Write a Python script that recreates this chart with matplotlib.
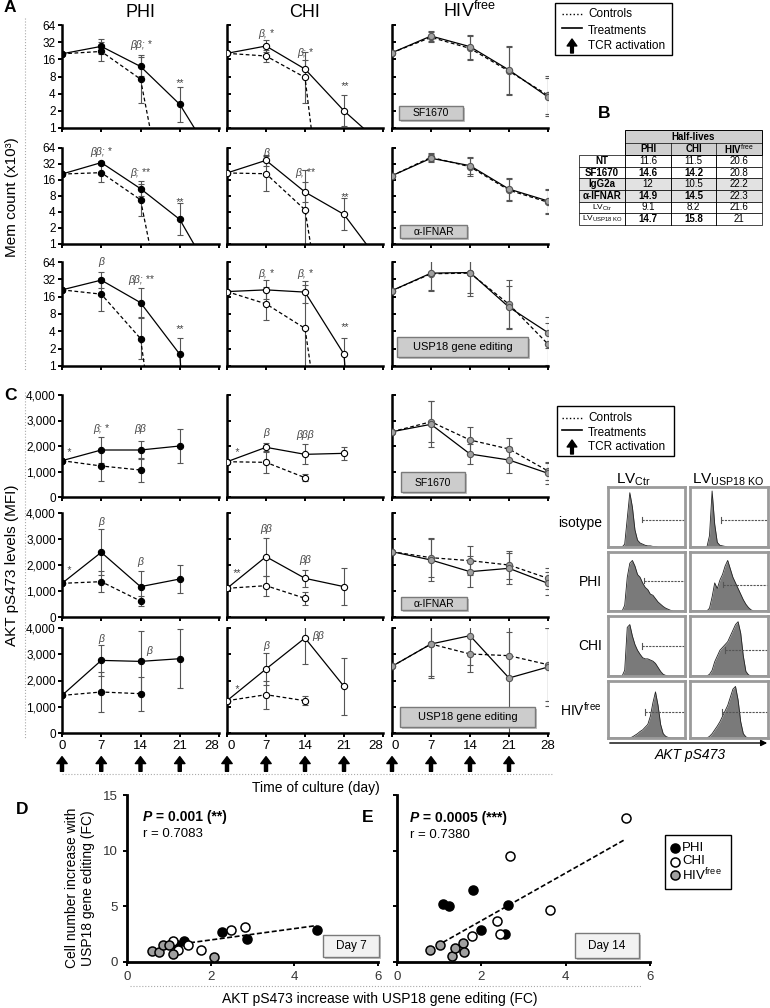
"""
Memory cell decay (A), half-life table (B), AKT pS473 kinetics with flow
histograms (C) and fold-change correlations at day 7 / day 14 (D, E).
Output: out.png (770 x 1008 px)
"""
import numpy as np
import matplotlib.pyplot as plt
from matplotlib.patches import Rectangle
from matplotlib.ticker import NullLocator

plt.rcParams['font.family'] = ['Liberation Sans', 'DejaVu Sans']
plt.rcParams['mathtext.fontset'] = 'custom'
plt.rcParams['mathtext.rm'] = 'Liberation Sans'
plt.rcParams['mathtext.it'] = 'Liberation Sans:italic'
plt.rcParams['mathtext.bf'] = 'Liberation Sans:bold'

W, H = 770, 1008
nan = np.nan

DAYS = [0, 7, 14, 21, 28]
GROUPS = ['PHI', 'CHI', r'HIV$^{\mathrm{free}}$']
TREATMENTS = ['SF1670', 'α-IFNAR', 'USP18 gene editing']

# ---- panel A: memory cell count (x10^3); rows = treatments; err in log2 units
A_PHI_TRT = [[20, 27, 12, 2.6, 0.2], [20.7, 34, 11, 2.9, 0.15], [21, 31, 12.6, 1.6, 1e-9]]
A_PHI_CTL = [[20, 22, 7.2, 0.002, nan], [20.7, 22, 6.8, 0.0015, nan], [21, 17.7, 3.0, 5e-5, nan]]
A_PHI_TRT_ERR = [[0, 0.45, 0.55, 1.0, 0], [0, 0.12, 0.45, 1.0, 0], [0, 0.45, 0.85, 0.95, 0]]
A_PHI_CTL_ERR = [[0, 0.55, 1.4, 0, 0], [0, 0.6, 1.0, 0, 0], [0, 0.95, 1.2, 0, 0]]

A_CHI_TRT = [[20.4, 27.4, 10.8, 2.0, 0.49], [21.7, 37.5, 9.5, 3.6, 0.38], [19.6, 21, 19.2, 1.6, 1e-9]]
A_CHI_CTL = [[20.4, 18.3, 7.7, 2e-5, nan], [21.7, 21, 4.4, 1.3e-4, nan], [19.6, 12, 4.5, 1.1e-4, nan]]
A_CHI_TRT_ERR = [[0, 0.35, 0.5, 0.9, 0], [0, 0.35, 0.6, 1.0, 0], [0, 0.55, 0.65, 0.95, 0]]
A_CHI_CTL_ERR = [[0, 0.37, 1.5, 0, 0], [0, 1.1, 2.5, 0, 0], [0, 0.95, 2.5, 0, 0]]

A_HIV_TRT = [[20.9, 41, 26.7, 10.4, 3.5], [19.3, 41, 29.8, 10.8, 6.45], [20.4, 41, 42, 10.5, 3.8]]
A_HIV_CTL = [[20.9, 38.9, 24.9, 9.9, 3.76], [19.3, 42.8, 28.4, 10.3, 6.1], [20.4, 40, 41, 11.8, 2.4]]
A_HIV_TRT_ERR = [[0, 0.3, 0.7, 1.4, 1.1], [0, 0.25, 0.55, 0.7, 0.75], [0, 1.0, 1.2, 1.2, 0.9]]
A_HIV_CTL_ERR = [[0, 0.3, 0.7, 1.4, 1.1], [0, 0.25, 0.55, 0.7, 0.75], [0, 1.0, 1.3, 1.4, 1.2]]

A_PHI_SIG = [[(14, 28, 'ββ; *'), (21, 6.2, '**')],
             [(7, 54, 'ββ; *'), (14, 22, 'β; **'), (21, 6.2, '**')],
             [(7, 64, 'β'), (14, 31, 'ββ; **'), (21, 4.3, '**')]]
A_CHI_SIG = [[(7, 45, 'β, *'), (14, 21, 'β; *'), (21, 5.5, '**')],
             [(7, 52, 'β'), (14, 22, 'β; **'), (21, 7.5, '**')],
             [(7, 40, 'β, *'), (14, 40, 'β, *'), (21, 4.8, '**')]]

# ---- panel C: AKT pS473 MFI
C_PHI_TRT = [[1424, 1843, 1843, 2000, nan], [1295, 2487, 1167, 1461, nan], [1432, 2766, 2728, 2830, nan]]
C_PHI_CTL = [[1424, 1216, 1059, nan, nan], [1295, 1359, 615, nan, nan], [1432, 1562, 1498, nan, nan]]
C_PHI_TRT_ERR = [[0, 500, 350, 650, 0], [0, 880, 600, 520, 0], [0, 580, 1170, 1130, 0]]
C_PHI_CTL_ERR = [[0, 600, 480, 0, 0], [0, 400, 200, 0, 0], [0, 760, 650, 0, 0]]

C_CHI_TRT = [[1384, 1948, 1673, 1712, nan], [1103, 2320, 1487, 1167, nan], [1230, 2438, 3619, 1775, nan]]
C_CHI_CTL = [[1384, 1359, 758, nan, nan], [1103, 1205, 718, nan, nan], [1230, 1459, 1230, nan, nan]]
C_CHI_TRT_ERR = [[0, 180, 390, 260, 0], [0, 730, 320, 700, 0], [0, 600, 1000, 1100, 0]]
C_CHI_CTL_ERR = [[0, 430, 150, 0, 0], [0, 390, 250, 0, 0], [0, 530, 170, 0, 0]]

C_HIV_TRT = [[2560, 2850, 1686, 1451, 929], [2513, 2192, 1744, 1872, 1295], [2540, 3390, 3708, 2095, 2514]]
C_HIV_CTL = [[2560, 2950, 2235, 1882, 1020], [2513, 2282, 2167, 2000, 1487], [2540, 3390, 3010, 2946, 2603]]
C_HIV_TRT_ERR = [[0, 900, 400, 500, 400], [0, 800, 600, 600, 450], [0, 1300, 1100, 2100, 1500]]
C_HIV_CTL_ERR = [[0, 800, 500, 450, 350], [0, 750, 550, 550, 400], [0, 1200, 700, 900, 1400]]

C_PHI_SIG = [[(1.2, 1780, '*'), (7, 2670, 'β; *'), (14, 2670, 'ββ')],
             [(1.2, 1800, '*'), (7, 3666, 'β'), (14, 2127, 'β')],
             [(7, 3580, 'β'), (15.5, 3135, 'β')]]
C_CHI_SIG = [[(1.6, 1780, '*'), (7, 2500, 'β'), (14, 2430, 'βββ')],
             [(1.6, 1700, '**'), (7, 3372, 'ββ'), (14, 2200, 'ββ')],
             [(1.6, 1676, '*'), (7, 3300, 'β'), (16.4, 3680, 'ββ')]]

TCR_DAYS = [0, 7, 14, 21]

# ---- panel B: half-lives (days)
B_ROWS = ['NT', 'SF1670', 'IgG2a', 'α-IFNAR', r'LV$_{\mathrm{Ctr}}$', r'LV$_{\mathrm{USP18\ KO}}$']
B_PHI = [11.6, 14.6, 12, 14.9, 9.1, 14.7]
B_CHI = [11.5, 14.2, 10.5, 14.5, 8.2, 15.8]
B_HIV = [20.6, 20.8, 22.2, 22.3, 21.6, 21]
B_BOLD = [False, True, False, True, False, True]

# ---- panel C histograms (relative counts, 30 bins)
HIST_ROWS = ['isotype', 'PHI', 'CHI', r'HIV$^{\mathrm{free}}$']
HIST_CTR = [
    [0, 0, 0, 0, 0, 0, .05, .5, .95, .7, .3, .12, .07, .05, .03, .02, .02, .01, .01, 0, 0, 0, 0, 0, 0, 0, 0, 0, 0, 0],
    [0, 0, 0, 0, 0, 0, .1, .6, .85, .9, .8, .65, .6, .5, .42, .38, .3, .28, .22, .16, .12, .08, .05, .03, .01, 0, 0, 0, 0, 0],
    [0, 0, 0, 0, 0, 0, .1, .85, .9, .7, .55, .45, .38, .32, .3, .3, .28, .26, .22, .15, .08, .03, .01, 0, 0, 0, 0, 0, 0, 0],
    [0, 0, 0, 0, 0, 0, 0, 0, 0, .02, .05, .08, .12, .15, .2, .25, .4, .65, .85, .6, .25, .08, .03, .01, 0, 0, 0, 0, 0, 0],
]
HIST_KO = [
    [0, 0, 0, 0, 0, 0, 0, .2, .98, .4, .08, .03, .02, .01, 0, 0, 0, 0, 0, 0, 0, 0, 0, 0, 0, 0, 0, 0, 0, 0],
    [0, 0, 0, 0, 0, 0, 0, .05, .25, .5, .4, .55, .65, .8, .9, .75, .6, .5, .4, .3, .2, .12, .06, .02, 0, 0, 0, 0, 0, 0],
    [0, 0, 0, 0, 0, 0, 0, .03, .1, .25, .35, .45, .5, .55, .6, .7, .8, .9, .95, .75, .35, .08, .02, 0, 0, 0, 0, 0, 0, 0],
    [0, 0, 0, 0, 0, 0, 0, .03, .08, .15, .22, .3, .4, .5, .6, .75, .9, .95, .7, .3, .08, .02, 0, 0, 0, 0, 0, 0, 0, 0],
]
GATE_CTR_X = [13.4, 14, 13.4, 14.4]
GATE_CTR_Y = [0.48, 0.54, 0.52, 0.48]
GATE_KO_X = [11.8, 12.8, 13.5, 12.2]
GATE_KO_Y = [0.47, 0.47, 0.46, 0.48]

# ---- panels D / E: fold changes with USP18 gene editing
D_PHI_X = [1.19, 1.36, 2.27, 2.86, 4.53]
D_PHI_Y = [1.49, 1.85, 2.69, 2.09, 2.90]
D_CHI_X = [1.11, 1.22, 1.47, 1.77, 2.48, 2.82]
D_CHI_Y = [1.85, 1.04, 1.49, 1.04, 2.90, 3.10]
D_HIV_X = [0.60, 0.76, 0.86, 1.00, 1.09, 2.07]
D_HIV_Y = [0.96, 0.90, 1.49, 1.49, 0.75, 0.42]
D_FIT = (0.51, 0.96)
D_FIT_X = [1.15, 4.53]

E_PHI_X = [1.08, 1.24, 1.81, 2.64, 2.00, 2.57]
E_PHI_Y = [5.22, 4.99, 6.48, 5.10, 2.90, 2.54]
E_CHI_X = [5.43, 2.69, 3.63, 2.37, 1.77, 2.44]
E_CHI_Y = [12.9, 9.55, 4.69, 3.70, 2.36, 2.54]
E_HIV_X = [0.79, 1.03, 1.31, 1.38, 1.57, 1.58]
E_HIV_Y = [1.04, 1.55, 0.51, 1.22, 1.73, 0.87]
E_FIT = (2.14, -0.57)
E_FIT_X = [1.09, 5.41]

# marker face / edge per group
FACE = ['black', 'white', '#a0a0a0']
EDGE = ['black', 'black', '#555555']

# layout (pixels)
COL_X = [(62, 219), (227, 383), (392, 548)]
A_ROW_Y = [(25, 128), (148, 244), (262, 366)]
C_ROW_Y = [(395, 497), (513, 617), (628, 733)]
A_BOX = [(399, 106, 463, 120), (400, 225, 467, 238), (397, 337, 528, 357)]
C_BOX = [(401, 472, 465, 492), (401, 597, 467, 610), (400, 707, 535, 727)]
HIST_COL_X = [(608, 685), (690, 768)]
HIST_ROW_Y = [(487, 547), (552, 611), (616, 676), (681, 738)]

fig = plt.figure(figsize=(W / 100, H / 100), dpi=100)


def px_axes(x0, y0, x1, y1, **kw):
    return fig.add_axes([x0 / W, 1 - y1 / H, (x1 - x0) / W, (y1 - y0) / H], **kw)


def draw_course(ax, trt, ctl, trt_err, ctl_err, g, log):
    days = np.array(DAYS, float)
    for vals, errs, ls in ((ctl, ctl_err, (0, (3, 2))), (trt, trt_err, '-')):
        v = np.array(vals, float)
        e = np.array(errs, float)
        ax.plot(days, v, ls=ls, color='black', lw=0.9, zorder=3)
        m = e > 0
        if log:
            lo, hi = v - v / 2 ** e, v * 2 ** e - v
        else:
            lo, hi = e, e
        ax.errorbar(days[m], v[m], yerr=[lo[m], hi[m]], fmt='none', ecolor='#555555',
                    elinewidth=0.8, capsize=2, capthick=0.8, zorder=2)
        ax.plot(days, v, ls='none', marker='o', ms=4.5, mfc=FACE[g], mec=EDGE[g],
                mew=0.8, zorder=4)


def style_axes(ax, col, show_x):
    first_col = col == 0
    ax.spines[['top', 'right']].set_visible(False)
    for s in ('left', 'bottom'):
        ax.spines[s].set_linewidth(1.8)
    ax.set_xlim(0, 28)
    ax.set_xticks(DAYS)
    ax.set_xticklabels([str(d) for d in DAYS])
    ax.tick_params(axis='x', direction='out', length=3, width=1.4, labelsize=9.5,
                   labelbottom=show_x, pad=2)
    ax.tick_params(axis='y', direction='out' if first_col else 'in', length=3, width=1.4,
                   labelsize=8.5, labelleft=first_col, pad=1.5)
    # neighbouring panels share the 28 / 0 boundary: push those labels apart
    ticks = ax.xaxis.get_major_ticks()
    if col < 2:
        ticks[-1].label1.set_horizontalalignment('right')
    if not first_col:
        ticks[0].label1.set_horizontalalignment('left')
    ax.patch.set_alpha(0)


def add_sig(ax, sigs):
    for d, y, s in sigs:
        ax.text(d, y, s, ha='center', va='center', fontsize=7.5, style='italic',
                color='#444444', zorder=5)


A_SETS = [(A_PHI_TRT, A_PHI_CTL, A_PHI_TRT_ERR, A_PHI_CTL_ERR, A_PHI_SIG),
          (A_CHI_TRT, A_CHI_CTL, A_CHI_TRT_ERR, A_CHI_CTL_ERR, A_CHI_SIG),
          (A_HIV_TRT, A_HIV_CTL, A_HIV_TRT_ERR, A_HIV_CTL_ERR, None)]
C_SETS = [(C_PHI_TRT, C_PHI_CTL, C_PHI_TRT_ERR, C_PHI_CTL_ERR, C_PHI_SIG),
          (C_CHI_TRT, C_CHI_CTL, C_CHI_TRT_ERR, C_CHI_CTL_ERR, C_CHI_SIG),
          (C_HIV_TRT, C_HIV_CTL, C_HIV_TRT_ERR, C_HIV_CTL_ERR, None)]

# ---- panel A
for r in range(3):
    for c in range(3):
        ax = px_axes(COL_X[c][0], A_ROW_Y[r][0], COL_X[c][1], A_ROW_Y[r][1])
        trt, ctl, te, ce, sig = A_SETS[c]
        ax.set_yscale('log', base=2)
        draw_course(ax, trt[r], ctl[r], te[r], ce[r], c, log=True)
        style_axes(ax, c, False)
        ax.set_ylim(1, 64)
        ax.set_yticks([1, 2, 4, 8, 16, 32, 64])
        ax.set_yticklabels(['1', '2', '4', '8', '16', '32', '64'])
        ax.yaxis.set_minor_locator(NullLocator())
        if sig:
            add_sig(ax, sig[r])
        if r == 0:
            ax.set_title(GROUPS[c], fontsize=13, pad=6)

# ---- panel C
for r in range(3):
    for c in range(3):
        ax = px_axes(COL_X[c][0], C_ROW_Y[r][0], COL_X[c][1], C_ROW_Y[r][1])
        trt, ctl, te, ce, sig = C_SETS[c]
        draw_course(ax, trt[r], ctl[r], te[r], ce[r], c, log=False)
        style_axes(ax, c, r == 2)
        ax.set_ylim(0, 4000)
        ax.set_yticks([0, 1000, 2000, 3000, 4000])
        ax.set_yticklabels(['0', '1,000', '2,000', '3,000', '4,000'])
        if sig:
            add_sig(ax, sig[r])
        if r == 2:
            for d in TCR_DAYS:
                ax.annotate('', xy=(d, -0.225), xytext=(d, -0.365),
                            xycoords=('data', 'axes fraction'),
                            arrowprops=dict(facecolor='black', edgecolor='black',
                                            width=2.2, headwidth=7.5, headlength=5, shrink=0),
                            annotation_clip=False)

# ---- histograms
for r in range(4):
    for k, (hist, gx, gy) in enumerate(((HIST_CTR, GATE_CTR_X, GATE_CTR_Y),
                                        (HIST_KO, GATE_KO_X, GATE_KO_Y))):
        ax = px_axes(HIST_COL_X[k][0], HIST_ROW_Y[r][0], HIST_COL_X[k][1], HIST_ROW_Y[r][1])
        vals = np.array(hist[r])
        xs = np.arange(len(vals)) + 0.5
        ax.fill_between(xs, vals, color='#7a7a7a', lw=0)
        ax.plot(xs, vals, color='#222222', lw=0.6)
        ax.plot([gx[r], 30], [gy[r], gy[r]], ls=(0, (2, 1)), color='#555555', lw=0.8)
        ax.plot([gx[r], gx[r]], [gy[r] - 0.05, gy[r] + 0.05], color='#555555', lw=0.8)
        ax.set_xlim(0, 30)
        ax.set_ylim(0, 1.05)
        ax.set_xticks([])
        ax.set_yticks([])
        for s in ax.spines.values():
            s.set_color('#9a9a9a')
            s.set_linewidth(2)

# ---- panels D and E
DE = [((127, 795, 378, 962), D_PHI_X, D_PHI_Y, D_CHI_X, D_CHI_Y, D_HIV_X, D_HIV_Y, D_FIT, D_FIT_X),
      ((397, 795, 650, 962), E_PHI_X, E_PHI_Y, E_CHI_X, E_CHI_Y, E_HIV_X, E_HIV_Y, E_FIT, E_FIT_X)]
for i, (box, px_, py_, cx_, cy_, hx_, hy_, fit, fx) in enumerate(DE):
    ax = px_axes(*box)
    fx = np.array(fx)
    ax.plot(fx, fit[0] * fx + fit[1], ls=(0, (3, 1.5)), color='black', lw=1.2, zorder=2)
    for g, (xs, ys) in enumerate(((px_, py_), (cx_, cy_), (hx_, hy_))):
        ax.plot(xs, ys, 'o', ms=6.5, mfc=FACE[g], mec='black', mew=1.1, zorder=3)
    ax.set_xlim(0, 6)
    ax.set_ylim(0, 15)
    ax.set_xticks([0, 2, 4, 6])
    ax.set_yticks([0, 5, 10, 15])
    ax.spines[['top', 'right']].set_visible(False)
    for s in ('left', 'bottom'):
        ax.spines[s].set_linewidth(2)
    ax.tick_params(direction='out', length=3, width=1.4, labelsize=9.5, labelcolor='#333333')
    ax.tick_params(axis='y', labelleft=(i == 0))
    ax.patch.set_alpha(0)

# ---- overlay in pixel coordinates for labels, legends and the table
over = fig.add_axes([0, 0, 1, 1], zorder=10)
over.set_xlim(0, W)
over.set_ylim(H, 0)
over.axis('off')
over.patch.set_alpha(0)

for x, y, s in ((4, 8, 'A'), (4, 396, 'C'), (16, 810, 'D'), (362, 818, 'E'), (598, 113, 'B')):
    over.text(x, y, s, fontsize=12.5, fontweight='bold', va='center')

over.text(12, 197, 'Mem count (x10³)', rotation=90, ha='center', va='center', fontsize=11)
over.text(12, 565, 'AKT pS473 levels (MFI)', rotation=90, ha='center', va='center', fontsize=11)
over.plot([25, 25], [18, 370], ls=':', color='#aaaaaa', lw=0.8)
over.plot([25, 25], [392, 738], ls=':', color='#aaaaaa', lw=0.8)
over.plot([62, 553], [774, 774], ls=':', color='#aaaaaa', lw=0.8)
over.text(380, 788, 'Time of culture (day)', ha='right', va='center', fontsize=10)
over.plot([130, 642], [986, 986], ls=':', color='#aaaaaa', lw=0.8)
over.text(380, 999, 'AKT pS473 increase with USP18 gene editing (FC)', ha='center',
          va='center', fontsize=10)
over.text(80, 888, 'Cell number increase with\nUSP18 gene editing (FC)', rotation=90,
          ha='center', va='center', fontsize=10, linespacing=1.1)


def label_box(x0, y0, x1, y1, text, fs=8, fc='#cccccc'):
    over.add_patch(Rectangle((x0 + 2, y0 + 2), x1 - x0, y1 - y0, color='#9a9a9a', lw=0, alpha=0.6))
    over.add_patch(Rectangle((x0, y0), x1 - x0, y1 - y0, fc=fc, ec='#7a7a7a', lw=1))
    over.text((x0 + x1) / 2, (y0 + y1) / 2 + 0.5, text, ha='center', va='center', fontsize=fs)


for r in range(3):
    label_box(*A_BOX[r], TREATMENTS[r], fs=8 if r == 2 else 7.5)
    label_box(*C_BOX[r], TREATMENTS[r], fs=8 if r == 2 else 7.5)


def draw_legend(x0, y0, x1, y1, ys):
    over.add_patch(Rectangle((x0, y0), x1 - x0, y1 - y0, fill=False, ec='black', lw=1))
    over.plot([562, 582], [ys[0], ys[0]], ls=':', color='black', lw=1)
    over.text(588, ys[0], 'Controls', va='center', fontsize=8.5)
    over.plot([562, 582], [ys[1] - 3, ys[1] - 3], color='black', lw=1.2)
    over.text(588, ys[1], 'Treatments', va='center', fontsize=8.5)
    over.annotate('', xy=(572, ys[2] - 7), xytext=(572, ys[2] + 7),
                  arrowprops=dict(facecolor='black', edgecolor='black', width=2,
                                  headwidth=7, headlength=5, shrink=0))
    over.text(588, ys[2], 'TCR activation', va='center', fontsize=8.5)


draw_legend(555, 3, 672, 55, [14, 31, 46])
draw_legend(557, 406, 674, 456, [418, 433, 447])

# table B
tx = [579, 625, 671, 716, 762]
over.add_patch(Rectangle((tx[1], 130), tx[4] - tx[1], 25, fc='#cfcfcf', ec='black', lw=0.7))
over.plot([tx[1], tx[4]], [143, 143], color='black', lw=0.5)
over.text((tx[1] + tx[4]) / 2, 136.5, 'Half-lives', ha='center', va='center',
          fontsize=7, fontweight='bold')
for j, name in enumerate(GROUPS):
    over.text((tx[j + 1] + tx[j + 2]) / 2, 149, name, ha='center', va='center',
              fontsize=7, fontweight='bold')
    over.plot([tx[j + 1], tx[j + 1]], [143, 225], color='black', lw=0.5)
rh = (225 - 155) / len(B_ROWS)
for i, name in enumerate(B_ROWS):
    y0 = 155 + i * rh
    fc = '#e2e2e2' if name in ('IgG2a', 'α-IFNAR') else 'white'
    over.add_patch(Rectangle((tx[0], y0), tx[4] - tx[0], rh, fc=fc, ec='black', lw=0.5, zorder=0))
    is_lv = name.startswith('LV')
    over.text((tx[0] + tx[1]) / 2, y0 + rh / 2, name, ha='center', va='center',
              fontsize=6 if is_lv else 7, fontweight='normal' if is_lv else 'bold')
    for j, vals in enumerate((B_PHI, B_CHI, B_HIV)):
        bold = B_BOLD[i] and j < 2
        over.text((tx[j + 1] + tx[j + 2]) / 2, y0 + rh / 2, f'{vals[i]:g}', ha='center',
                  va='center', fontsize=7, fontweight='bold' if bold else 'normal')
for j in range(1, 4):
    over.plot([tx[j], tx[j]], [155, 225], color='black', lw=0.5)

# histogram labels
over.text(633, 480, r'LV$_{\mathrm{Ctr}}$', ha='center', va='center', fontsize=11)
over.text(728, 480, r'LV$_{\mathrm{USP18\ KO}}$', ha='center', va='center', fontsize=11)
for r, name in enumerate(HIST_ROWS):
    over.text(602, (HIST_ROW_Y[r][0] + HIST_ROW_Y[r][1]) / 2 + 6 * (r == 0), name,
              ha='right', va='center', fontsize=10)
over.annotate('', xy=(770, 743), xytext=(607, 743),
              arrowprops=dict(arrowstyle='-|>', color='black', lw=1, mutation_scale=9))
over.text(690, 755, 'AKT pS473', ha='center', va='center', fontsize=10, style='italic')

# D / E annotations
for x, y, pval, rval in ((143, 817, ' = 0.001 (**)', 'r = 0.7083'),
                         (410, 818, ' = 0.0005 (***)', 'r = 0.7380')):
    t = over.text(x, y, 'P', fontsize=10, fontweight='bold', style='italic', va='center')
    over.annotate(pval, xy=(1, 0.5), xycoords=t, va='center', fontsize=10, fontweight='bold')
    over.text(x, y + 17, rval, fontsize=9.5, va='center')

label_box(323, 935, 379, 957, 'Day 7', fs=8.5, fc='#f2f2f2')
label_box(575, 933, 639, 958, 'Day 14', fs=8.5, fc='#f2f2f2')

over.add_patch(Rectangle((665, 835), 66, 54, fill=False, ec='black', lw=1))
for g, name in enumerate(GROUPS):
    y = 848 + g * 13.5
    over.plot([675], [y], 'o', ms=6.5, mfc=FACE[g], mec='black', mew=1.1)
    over.text(682, y, name, va='center', fontsize=9.5)

fig.savefig('out.png', dpi=100)
